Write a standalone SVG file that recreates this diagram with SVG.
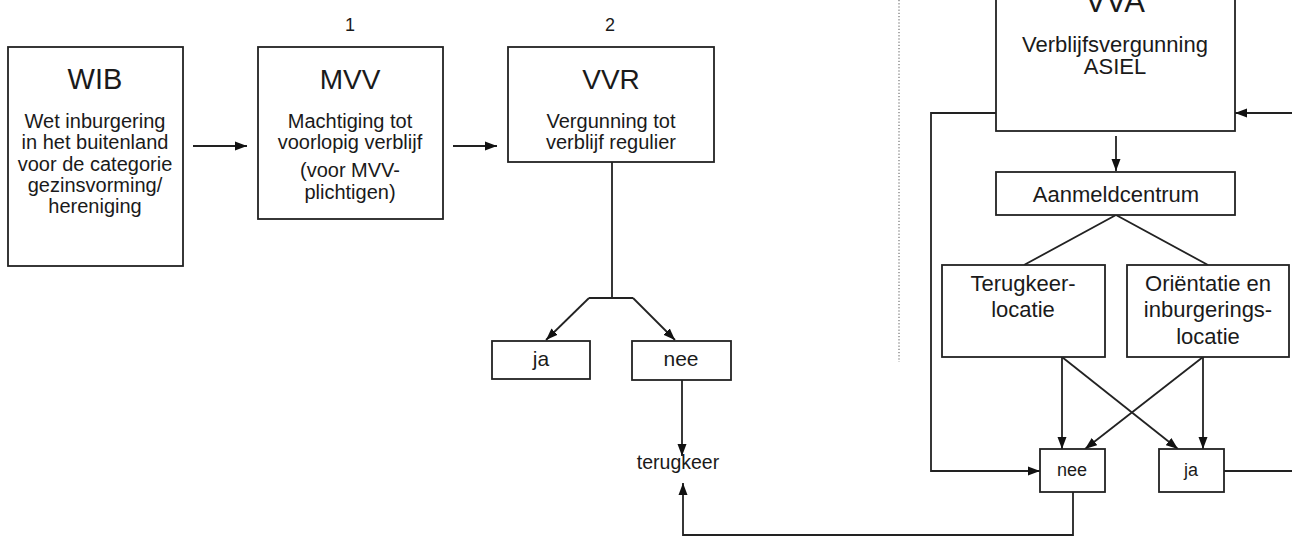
<svg xmlns="http://www.w3.org/2000/svg" width="1292" height="536" viewBox="0 0 1292 536">
<style>
.box{fill:#fff;stroke:#222;stroke-width:1.8}
.ln{fill:none;stroke:#222;stroke-width:1.8}
.arr{marker-end:url(#ah)}
text{font-family:"Liberation Sans",Arial,sans-serif;fill:#1a1a1a;text-anchor:middle}
.t{font-size:28px}
.b{font-size:20px}
.r{font-size:22px}
</style>
<defs>
<marker id="ah" viewBox="0 0 12 10" refX="12" refY="5" markerWidth="12" markerHeight="10" markerUnits="userSpaceOnUse" orient="auto">
<path d="M0,0.5 L12,5 L0,9.5 z" fill="#111"/>
</marker>
</defs>
<rect width="1292" height="536" fill="#fff"/>
<line x1="899" y1="0" x2="899" y2="362" stroke="#555" stroke-width="1" stroke-dasharray="1.2 2"/>
<g id="connectors">
<path class="ln arr" d="M193,146 H247"/>
<path class="ln arr" d="M453,146 H497"/>
<path class="ln" d="M612,162 V298 M589,298 H633"/>
<path class="ln arr" d="M589,298 L546,340"/>
<path class="ln arr" d="M633,298 L675,340"/>
<path class="ln arr" d="M682,380 V456"/>
<path class="ln arr" d="M1073,492 V535 H683 V483"/>
<path class="ln arr" d="M996,113 H931 V471 H1040"/>
<path class="ln arr" d="M1292,113 H1235"/>
<path class="ln arr" d="M1116,136 V171"/>
<path class="ln" d="M1024,265 L1116,215 L1208,265"/>
<path class="ln arr" d="M1062,357 V449"/>
<path class="ln arr" d="M1062,357 L1178,449"/>
<path class="ln arr" d="M1203,357 V449"/>
<path class="ln arr" d="M1203,357 L1085,449"/>
<path class="ln" d="M1224,471 H1292"/>
</g>
<g id="wib">
<rect class="box" x="8" y="47" width="175" height="219"/>
<text x="95" y="89" style="font-size:29px">WIB</text>
<text class="b" x="95" y="128">Wet inburgering</text>
<text class="b" x="95" y="149">in het buitenland</text>
<text class="b" x="95" y="171">voor de categorie</text>
<text class="b" x="95" y="192">gezinsvorming/</text>
<text class="b" x="95" y="213">hereniging</text>
</g>
<g id="label1"><text x="350" y="31" style="font-size:18px">1</text></g>
<g id="label2"><text x="610" y="31" style="font-size:18px">2</text></g>
<g id="mvv">
<rect class="box" x="258" y="47" width="185" height="172"/>
<text class="t" x="350" y="89">MVV</text>
<text class="b" x="350" y="128">Machtiging tot</text>
<text class="b" x="350" y="149">voorlopig verblijf</text>
<text class="b" x="350" y="177">(voor MVV-</text>
<text class="b" x="350" y="199">plichtigen)</text>
</g>
<g id="vvr">
<rect class="box" x="508" y="47" width="206" height="115"/>
<text class="t" x="611" y="89">VVR</text>
<text class="b" x="611" y="128">Vergunning tot</text>
<text class="b" x="611" y="149">verblijf regulier</text>
</g>
<g id="ja-left">
<rect class="box" x="492" y="341" width="98" height="38"/>
<text x="541" y="366" style="font-size:21px">ja</text>
</g>
<g id="nee-left">
<rect class="box" x="632" y="341" width="99" height="39"/>
<text x="681" y="366" style="font-size:21px">nee</text>
</g>
<g id="terugkeer">
<text x="678" y="469" style="font-size:19.5px">terugkeer</text>
</g>
<g id="vva">
<rect class="box" x="996" y="-20" width="239" height="151"/>
<text x="1115" y="12" style="font-size:31px">VVA</text>
<text class="r" x="1115" y="52">Verblijfsvergunning</text>
<text class="r" x="1115" y="74">ASIEL</text>
</g>
<g id="aanmeldcentrum">
<rect class="box" x="996" y="172" width="239" height="43"/>
<text class="r" x="1116" y="202">Aanmeldcentrum</text>
</g>
<g id="terugkeerlocatie">
<rect class="box" x="942" y="265" width="163" height="92"/>
<text class="r" x="1023" y="291">Terugkeer-</text>
<text class="r" x="1023" y="317">locatie</text>
</g>
<g id="orientatie">
<rect class="box" x="1127" y="265" width="162" height="92"/>
<text class="r" x="1208" y="291">Oriëntatie en</text>
<text class="r" x="1208" y="317">inburgerings-</text>
<text class="r" x="1208" y="344">locatie</text>
</g>
<g id="nee-right">
<rect class="box" x="1040" y="449" width="65" height="43"/>
<text x="1072" y="476" style="font-size:18px">nee</text>
</g>
<g id="ja-right">
<rect class="box" x="1159" y="449" width="65" height="43"/>
<text x="1191" y="476" style="font-size:18px">ja</text>
</g>
</svg>
